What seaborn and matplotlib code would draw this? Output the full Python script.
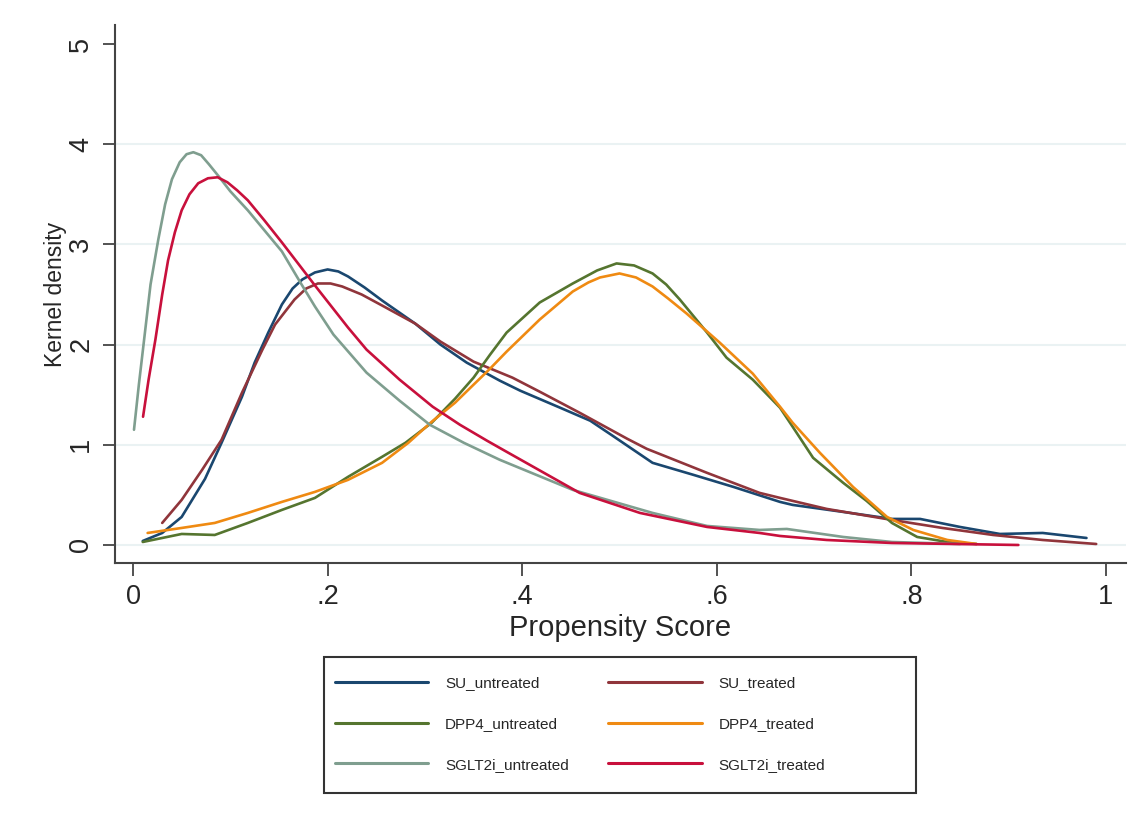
import matplotlib
matplotlib.use('Agg')
import matplotlib.pyplot as plt
import matplotlib.patches as mpatches
import seaborn as sns
import pandas as pd

# values (propensity score, kernel density)
su_untreated_x = [.01, .03, .05, .074, .091, .112, .125, .139, .153, .164, .174, .187, .2, .211, .221, .238, .256,
                  .29, .316, .343, .377, .398, .439, .47, .493, .534, .576, .617, .665, .678, .73, .78, .809,
                  .85, .891, .935, .98]
su_untreated_y = [.04, .12, .28, .66, 1.02, 1.48, 1.82, 2.12, 2.4, 2.56, 2.65, 2.72, 2.75, 2.73, 2.68, 2.57, 2.44,
                  2.21, 2.0, 1.82, 1.64, 1.54, 1.37, 1.24, 1.09, .82, .70, .58, .43, .40, .33, .26, .26,
                  .18, .11, .12, .07]

su_treated_x = [.03, .05, .071, .091, .112, .133, .146, .166, .178, .19, .203, .215, .235, .256, .29, .316, .35,
                .39, .418, .459, .508, .528, .59, .644, .665, .713, .78, .832, .884, .935, .99]
su_treated_y = [.22, .45, .75, 1.05, 1.52, 1.95, 2.2, 2.45, 2.56, 2.61, 2.61, 2.58, 2.5, 2.39, 2.21, 2.03, 1.83,
                1.67, 1.53, 1.32, 1.06, .96, .72, .52, .47, .36, .25, .17, .10, .05, .01]

dpp4_untreated_x = [.01, .05, .084, .118, .153, .187, .221, .256, .28, .307, .331, .35, .367, .384, .418, .452,
                    .477, .497, .515, .534, .548, .562, .59, .61, .637, .665, .678, .699, .73, .754, .78, .806,
                    .837, .867]
dpp4_untreated_y = [.03, .11, .10, .22, .35, .47, .68, .88, 1.02, 1.22, 1.46, 1.67, 1.9, 2.12, 2.42, 2.61,
                    2.74, 2.81, 2.79, 2.71, 2.6, 2.45, 2.12, 1.87, 1.65, 1.37, 1.18, .87, .62, .44, .22, .08,
                    .03, .01]

dpp4_treated_x = [.015, .05, .084, .118, .153, .187, .221, .256, .283, .307, .331, .35, .367, .384, .418, .452,
                  .468, .48, .5, .517, .534, .55, .569, .603, .637, .665, .678, .706, .74, .775, .802, .837,
                  .867]
dpp4_treated_y = [.12, .17, .22, .32, .43, .53, .65, .82, 1.02, 1.23, 1.42, 1.6, 1.76, 1.93, 2.25, 2.53, 2.62,
                  2.67, 2.71, 2.67, 2.58, 2.46, 2.31, 2.02, 1.71, 1.38, 1.22, .92, .58, .28, .15, .05,
                  .01]

sglt2i_untreated_x = [.001, .006, .012, .018, .026, .033, .04, .048, .055, .062, .07, .078, .088, .1, .118, .153,
                      .172, .187, .206, .24, .274, .305, .34, .377, .452, .534, .59, .644, .672, .73, .78, .85]
sglt2i_untreated_y = [1.15, 1.6, 2.1, 2.6, 3.05, 3.4, 3.65, 3.82, 3.9, 3.92, 3.89, 3.8, 3.68, 3.53, 3.34, 2.93,
                      2.62, 2.38, 2.1, 1.72, 1.44, 1.2, 1.02, .85, .55, .32, .19, .15, .16, .08, .03, .01]

sglt2i_treated_x = [.0103, .016, .023, .03, .036, .043, .05, .058, .067, .077, .087, .097, .107, .118, .135, .153,
                    .172, .187, .221, .24, .274, .308, .336, .364, .384, .459, .521, .59, .644, .665, .713, .78,
                    .91]
sglt2i_treated_y = [1.28, 1.65, 2.05, 2.5, 2.84, 3.12, 3.34, 3.5, 3.61, 3.66, 3.67, 3.62, 3.54, 3.44, 3.24, 3.02,
                    2.78, 2.59, 2.17, 1.95, 1.65, 1.38, 1.2, 1.04, .93, .52, .32, .18, .12, .09, .05, .02,
                    .0]

groups = ['SU_untreated', 'SU_treated', 'DPP4_untreated', 'DPP4_treated', 'SGLT2i_untreated', 'SGLT2i_treated']
colors = ['#1a476f', '#90353b', '#55752f', '#ef8a12', '#7f9e8f', '#c8103c']

series = [(su_untreated_x, su_untreated_y), (su_treated_x, su_treated_y),
          (dpp4_untreated_x, dpp4_untreated_y), (dpp4_treated_x, dpp4_treated_y),
          (sglt2i_untreated_x, sglt2i_untreated_y), (sglt2i_treated_x, sglt2i_treated_y)]

frames = []
for name, (xs, ys) in zip(groups, series):
    frames.append(pd.DataFrame({'ps': xs, 'density': ys, 'group': name}))
df = pd.concat(frames, ignore_index=True)

sns.set_style('white')
plt.rcParams['font.family'] = ['Liberation Sans', 'DejaVu Sans']

fig = plt.figure(figsize=(11.4, 8.27), dpi=100)
ax = fig.add_axes([0.1009, 0.3192, 0.8868, 0.6506])

for yv in [0, 1, 2, 3, 4]:
    ax.axhline(yv, color='#eaf2f3', lw=1.5, zorder=0)

sns.lineplot(data=df, x='ps', y='density', hue='group', hue_order=groups,
             palette=dict(zip(groups, colors)), sort=False, estimator=None,
             lw=1.9, ax=ax, legend=False)

ax.set_xlim(-0.0185, 1.0206)
ax.set_ylim(-0.18, 5.19)
ax.set_xticks([0, .2, .4, .6, .8, 1])
ax.set_xticklabels(['0', '.2', '.4', '.6', '.8', '1'])
ax.set_yticks([0, 1, 2, 3, 4, 5])
ax.set_yticklabels(['0', '1', '2', '3', '4', '5'], rotation=90, va='center')
ax.tick_params(axis='both', direction='out', length=9, width=1.3, color='#444444',
               labelsize=19.5, left=True, bottom=True)
ax.tick_params(axis='x', pad=6)
ax.tick_params(axis='y', pad=6)
ax.set_xlabel('Propensity Score', fontsize=21)
ax.xaxis.set_label_coords(0.5, -0.094)
ax.set_ylabel('Kernel density', fontsize=16.5)
ax.yaxis.set_label_coords(-0.048, 0.5)
for side in ['top', 'right']:
    ax.spines[side].set_visible(False)
for side in ['left', 'bottom']:
    ax.spines[side].set_color('#444444')
    ax.spines[side].set_linewidth(1.5)

# legend: two columns, untreated on the left, treated on the right
order = [0, 2, 4, 1, 3, 5]
handles = [plt.Line2D([], [], color=colors[i], lw=2.2) for i in order]
labels = [groups[i] for i in order]
fig.legend(handles, labels, loc='center left', bbox_to_anchor=(335 / 1140, 1 - 724 / 827),
           ncol=2, fontsize=11, handlelength=6.1, handletextpad=1.1, columnspacing=2.6,
           labelspacing=1.75, borderpad=0, borderaxespad=0, frameon=False)
fig.patches.append(mpatches.Rectangle((324 / 1140, 1 - 793 / 827), 592 / 1140, 136 / 827,
                                      transform=fig.transFigure, fill=False,
                                      edgecolor='#333333', lw=1.5))

fig.savefig('out.png', dpi=100, facecolor='white')
